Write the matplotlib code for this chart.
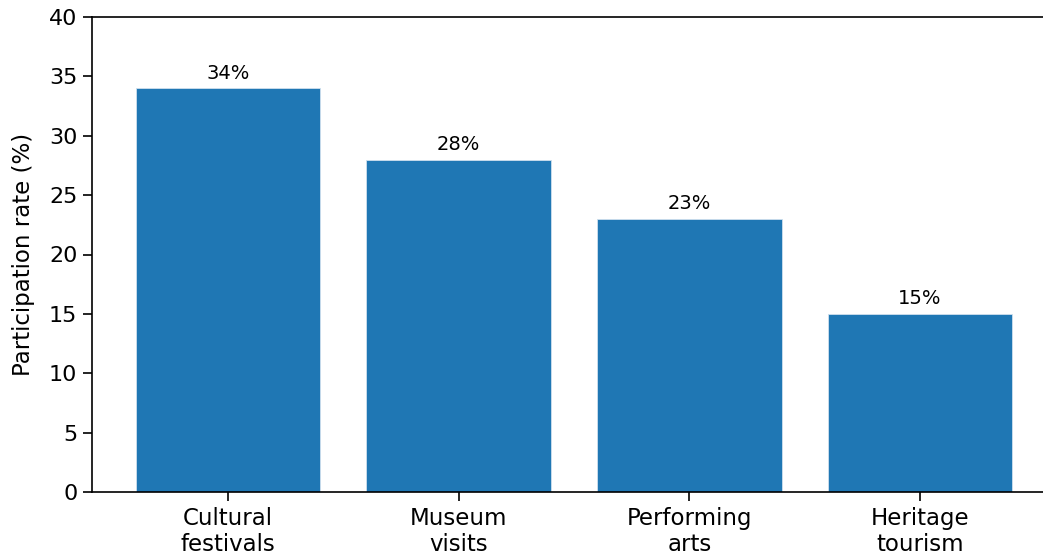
import matplotlib
matplotlib.use("Agg")
import matplotlib.pyplot as plt

# Participation rates by activity
categories = ["Cultural\nfestivals", "Museum\nvisits", "Performing\narts", "Heritage\ntourism"]
rates = [34, 28, 23, 15]

fig = plt.figure(figsize=(10.43, 5.57), dpi=100)
ax = fig.add_axes([92 / 1043, 65 / 557, 964 / 1043, 475 / 557])

bars = ax.bar(categories, rates, width=0.8, color="#1f77b4", edgecolor="#cfe0ee", linewidth=0.6)
for bar, r in zip(bars, rates):
    ax.annotate(f"{r}%", (bar.get_x() + bar.get_width() / 2, bar.get_height()),
                xytext=(0, 4), textcoords="offset points", ha="center", va="bottom", fontsize=14)

ax.set_ylim(0, 40)
ax.set_ylabel("Participation rate (%)", fontsize=16.5, labelpad=10)
ax.tick_params(labelsize=16, width=1.2, length=6.5, pad=4)
for lbl in ax.get_xticklabels():
    lbl.set_fontsize(16.5)
ax.spines["right"].set_visible(False)
for s in ["left", "bottom", "top"]:
    ax.spines[s].set_linewidth(1.2)

fig.savefig("out.png", dpi=100)
